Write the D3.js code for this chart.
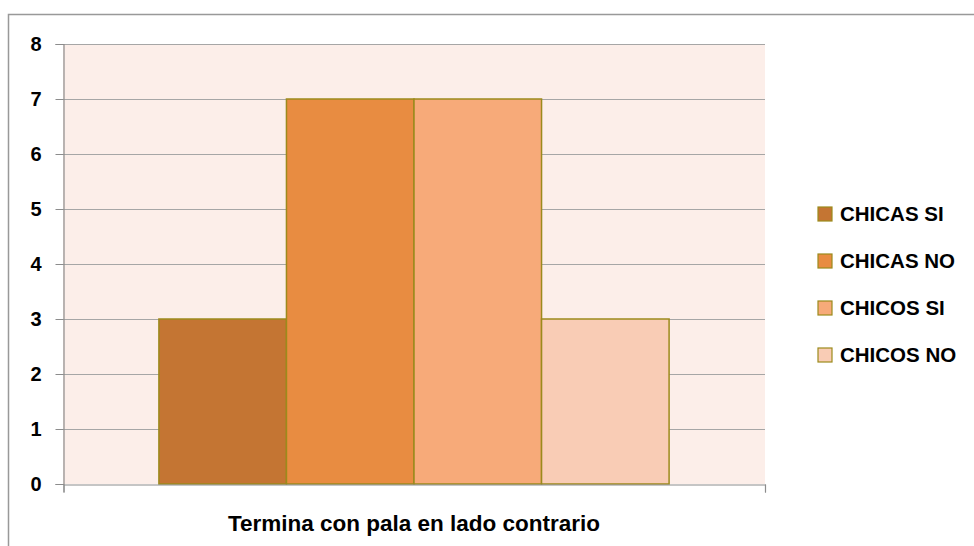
<!DOCTYPE html>
<html><head><meta charset="utf-8">
<script src="https://cdn.jsdelivr.net/npm/d3@7"></script>
<style>html,body{margin:0;padding:0;background:#fff;}svg{display:block;}</style>
</head><body>
<svg id="chart" width="974" height="546"></svg>
<script>
const categories = ["Termina con pala en lado contrario"];
const seriesNames = ["CHICAS SI", "CHICAS NO", "CHICOS SI", "CHICOS NO"];
const seriesValues = [3, 7, 7, 3];
const seriesColors = ["#C47533", "#E88C41", "#F7AA79", "#F9CCB5"];
const yTicks = [0, 1, 2, 3, 4, 5, 6, 7, 8];

(function () {
const svg = d3.select("#chart");
const font = "'Liberation Sans', Arial, sans-serif";
const pLeft = 63, pRight = 765, pTop = 44, pBottom = 484;

// outer chart border
svg.append("rect").attr("x", 8.5).attr("y", 14.5).attr("width", 1000).attr("height", 600)
  .attr("fill", "none").attr("stroke", "#999").attr("stroke-width", 1.5);

const y = d3.scaleLinear().domain([0, 8]).range([pBottom, pTop]);
const x0 = d3.scaleBand().domain(categories).range([pLeft, pRight]).paddingInner(0).paddingOuter(0.188);
const x1 = d3.scaleBand().domain(seriesNames).range([0, x0.bandwidth()]);

// plot background
svg.append("rect").attr("x", pLeft).attr("y", pTop).attr("width", pRight - pLeft).attr("height", pBottom - pTop)
  .attr("fill", "#FCEEE9");

// grid lines
svg.append("g").selectAll("line").data(yTicks.filter(d => d > 0)).join("line")
  .attr("x1", pLeft).attr("x2", pRight)
  .attr("y1", d => Math.round(y(d)) + 0.5).attr("y2", d => Math.round(y(d)) + 0.5)
  .attr("stroke", "#A6A6A6").attr("stroke-width", 1);

// bars
const g = svg.append("g").selectAll("g").data(categories).join("g")
  .attr("transform", d => `translate(${x0(d)},0)`);
g.selectAll("rect").data(seriesNames.map((s, i) => ({s, v: seriesValues[i], c: seriesColors[i]}))).join("rect")
  .attr("x", d => x1(d.s)).attr("width", x1.bandwidth())
  .attr("y", d => y(d.v)).attr("height", d => y(0) - y(d.v))
  .attr("fill", d => d.c).attr("stroke", "#9C8A1C").attr("stroke-width", 1.5);

// y axis
const yAxis = svg.append("g").attr("transform", `translate(${pLeft + 0.5},0)`)
  .call(d3.axisLeft(y).tickValues(yTicks).tickSize(8).tickPadding(14).tickFormat(d3.format("d")));
yAxis.select(".domain").attr("stroke", "#8C8C8C").attr("stroke-width", 1.2);
yAxis.selectAll(".tick line").attr("stroke", "#8C8C8C");
yAxis.selectAll("text").attr("font-family", font).attr("font-weight", "bold").attr("font-size", 20).attr("fill", "#000");

// x axis
const xAxis = svg.append("g").attr("transform", `translate(0,${pBottom + 0.5})`)
  .call(d3.axisBottom(d3.scaleLinear().domain([0, 1]).range([pLeft + 0.5, pRight])).tickValues([0, 1]).tickSize(8).tickFormat(""));
xAxis.select(".domain").attr("stroke", "#8C8C8C").attr("stroke-width", 1.2);
xAxis.selectAll(".tick line").attr("stroke", "#8C8C8C");

// category label
svg.append("text").attr("x", (pLeft + pRight) / 2).attr("y", 531).attr("text-anchor", "middle")
  .attr("font-family", font).attr("font-weight", "bold").attr("font-size", 22.5).attr("fill", "#000")
  .text(categories[0]);

// legend
const legendY = d3.scalePoint().domain(seriesNames).range([214, 355]);
const lg = svg.append("g").selectAll("g").data(seriesNames).join("g")
  .attr("transform", d => `translate(818,${legendY(d)})`);
lg.append("rect").attr("x", 0).attr("y", -7).attr("width", 14).attr("height", 14)
  .attr("fill", (d, i) => seriesColors[i]).attr("stroke", "#9C8A1C").attr("stroke-width", 1.2);
lg.append("text").attr("x", 22).attr("y", 0).attr("dy", "0.36em")
  .attr("font-family", font).attr("font-weight", "bold").attr("font-size", 20.5).attr("fill", "#000")
  .text(d => d);
})();
</script>
</body></html>
